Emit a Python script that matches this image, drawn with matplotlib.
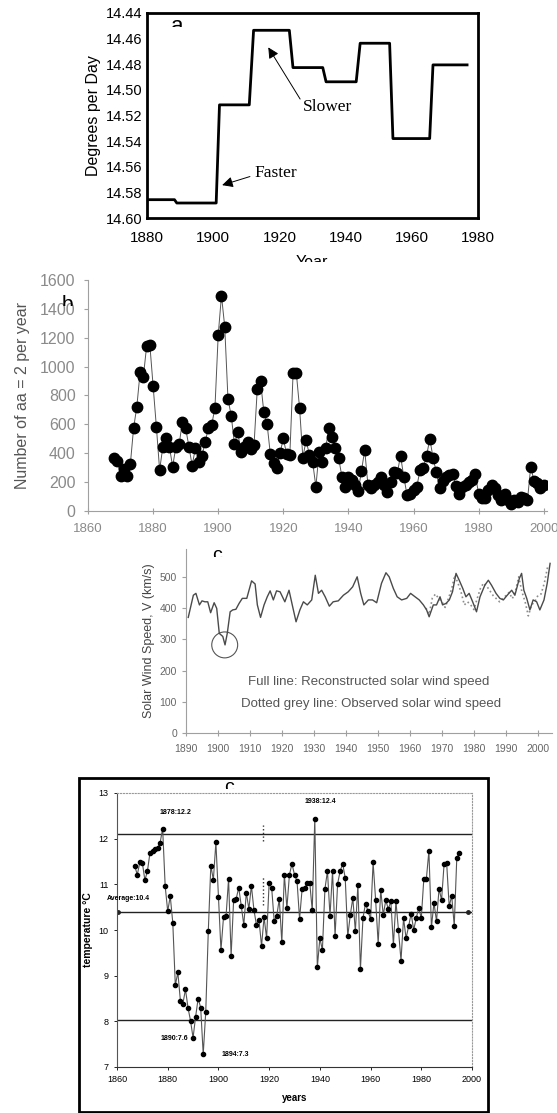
import numpy as np
import matplotlib
matplotlib.use("Agg")
import matplotlib.pyplot as plt
from matplotlib.patches import Ellipse, Rectangle
from matplotlib.transforms import Bbox, TransformedBbox

plt.rcParams['font.family'] = ['Liberation Sans', 'DejaVu Sans']

# ---- panel a: rotation rate (degrees per day), step curve vertices
a_years = [1880, 1888.3, 1889.0, 1900.9, 1901.9, 1910.9, 1912.2, 1923.0, 1924.1,
           1933.1, 1934.1, 1943.2, 1944.4, 1953.3, 1954.3, 1965.4, 1966.4, 1976.7]
a_rates = [14.5857, 14.5857, 14.5883, 14.5883, 14.5117, 14.5117, 14.4535, 14.4535,
           14.4826, 14.4826, 14.4937, 14.4937, 14.4636, 14.4636, 14.538, 14.538,
           14.4805, 14.4805]
a_yticks = [14.44, 14.46, 14.48, 14.50, 14.52, 14.54, 14.56, 14.58, 14.60]
a_xticks = [1880, 1900, 1920, 1940, 1960, 1980]

# ---- panel b: number of aa = 2 per year
b_start = 1868
b_counts = [365, 346, 245, 290, 245, 323, 573, 723, 960, 930,
            1140, 1150, 868, 584, 284, 446, 508, 446, 307, 446,
            462, 619, 573, 446, 314, 439, 342, 383, 480, 577,
            596, 716, 1220, 1492, 1277, 776, 660, 462, 545, 411,
            446, 480, 430, 457, 845, 900, 688, 605, 397, 330,
            300, 400, 504, 393, 388, 954, 954, 711, 369, 492,
            388, 341, 168, 411, 341, 434, 573, 515, 434, 365,
            238, 168, 238, 215, 180, 138, 277, 422, 180, 161,
            180, 203, 238, 180, 134, 203, 272, 261, 383, 238,
            111, 115, 145, 168, 284, 300, 383, 499, 369, 268,
            157, 208, 238, 249, 254, 175, 115, 168, 180, 203,
            215, 254, 115, 88, 92, 145, 180, 161, 111, 76,
            115, 76, 46, 76, 60, 99, 88, 76, 307, 208,
            192, 157, 180]
b_years = list(range(b_start, b_start + len(b_counts)))

# ---- panel c: solar wind speed (km/s)
c_years = [1890.7, 1892.3, 1893.1, 1894.2, 1895.0, 1895.9, 1896.8, 1897.7, 1898.8, 1899.6,
           1900.4, 1901.5, 1902.2, 1902.9, 1903.8, 1904.6, 1905.6, 1906.6, 1907.6, 1909.0,
           1910.5, 1911.6, 1912.3, 1913.3, 1914.4, 1915.4, 1916.3, 1917.3, 1918.3, 1919.4,
           1920.9, 1922.2, 1923.3, 1924.4, 1925.6, 1926.7, 1927.9, 1929.3, 1930.4, 1931.4,
           1932.4, 1933.5, 1934.8, 1936.0, 1937.6, 1939.2, 1940.7, 1942.1, 1943.5, 1944.6,
           1945.6, 1947.0, 1948.3, 1949.6, 1951.1, 1952.5, 1953.5, 1954.8, 1956.0, 1957.4,
           1959.0, 1960.2, 1961.6, 1962.9, 1964.2, 1965.2, 1966.0, 1967.3, 1968.3, 1969.4,
           1970.2, 1971.3, 1972.3, 1973.3, 1974.4, 1975.4, 1976.5, 1977.5, 1978.5, 1979.6,
           1980.8, 1981.9, 1983.4, 1984.5, 1985.5, 1986.9, 1988.1, 1989.2, 1990.4, 1991.8,
           1992.8, 1994.2, 1994.9, 1995.6, 1996.5, 1997.5, 1998.5, 1999.6, 2000.6, 2001.9,
           2002.9, 2003.8]
c_recon = [370, 441, 447, 410, 423, 420, 420, 385, 417, 399,
           319, 309, 282, 319, 388, 394, 396, 415, 431, 431,
           487, 477, 410, 370, 410, 436, 455, 426, 455, 452,
           420, 457, 406, 356, 394, 420, 410, 426, 505, 447,
           457, 436, 406, 420, 423, 441, 452, 468, 500, 447,
           410, 426, 426, 417, 479, 513, 500, 463, 436, 426,
           431, 447, 436, 426, 410, 394, 372, 410, 410, 436,
           410, 415, 426, 452, 511, 489, 463, 436, 447, 420,
           388, 436, 473, 489, 473, 447, 431, 426, 441, 457,
           441, 495, 511, 457, 431, 394, 426, 420, 394, 426,
           479, 543]
c_obs_years = list(range(1965, 2004))
c_obs = [400, 380, 432, 445, 430, 420, 402, 430, 460, 505,
         480, 450, 410, 420, 410, 395, 430, 462, 480, 470,
         455, 440, 430, 420, 430, 440, 450, 430, 455, 500,
         452, 420, 375, 410, 420, 440, 445, 480, 530]
c_xticks = list(range(1890, 2001, 10))
c_yticks = [0, 100, 200, 300, 400, 500]

# ---- panel d: temperature (deg C)
d_start = 1867
d_temps = [11.40, 11.21, 11.48, 11.47, 11.09, 11.29, 11.69, 11.72, 11.78, 11.80,
           11.91, 12.22, 10.96, 10.41, 10.74, 10.16, 8.79, 9.07, 8.45, 8.39,
           8.70, 8.30, 8.01, 7.64, 8.10, 8.50, 8.30, 7.28, 8.21, 9.97,
           11.41, 11.10, 11.92, 10.72, 9.56, 10.28, 10.30, 11.12, 9.43, 10.66,
           10.68, 10.93, 10.53, 10.11, 10.82, 10.46, 10.97, 10.44, 10.11, 10.22,
           9.65, 10.28, 9.82, 11.04, 10.92, 10.19, 10.31, 10.68, 9.73, 11.21,
           10.48, 11.21, 11.45, 11.21, 11.07, 10.24, 10.90, 10.92, 11.03, 11.04,
           10.43, 12.44, 9.18, 9.82, 9.56, 10.90, 11.29, 10.31, 11.29, 9.87,
           11.01, 11.29, 11.45, 11.14, 9.86, 10.33, 10.70, 9.97, 10.99, 9.14,
           10.26, 10.58, 10.41, 10.24, 11.48, 10.65, 9.70, 10.88, 10.33, 10.65,
           10.46, 10.63, 9.67, 10.63, 10.00, 9.33, 10.26, 9.82, 10.08, 10.36,
           10.00, 10.26, 10.48, 10.26, 11.12, 11.12, 11.73, 10.06, 10.60, 10.19,
           10.90, 10.66, 11.45, 11.47, 10.52, 10.75, 10.09, 11.58, 11.69]
d_years = list(range(d_start, d_start + len(d_temps)))
d_levels = [12.1, 10.4, 8.03]


W, H = 557, 1113
fig = plt.figure(figsize=(W / 100, H / 100), dpi=100)


def rect(l, t, r, b):
    # pixel box -> figure fraction rect
    return [l / W, 1 - b / H, (r - l) / W, (b - t) / H]


def clipped_text(x, y, s, cut_y, **kw):
    # text whose lower part is cut off at pixel row cut_y (from top)
    t = fig.text(x / W, 1 - y / H, s, va='baseline', **kw)
    bb = Bbox.from_extents(0, 1 - cut_y / H, 1, 1)
    t.set_clip_box(TransformedBbox(bb, fig.transFigure))
    t.set_clip_on(True)
    return t


# ================= panel a =================
ax = fig.add_axes(rect(147, 13, 478, 218))
ax.plot(a_years, a_rates, color='black', lw=2)
ax.set_xlim(1880, 1980)
ax.set_ylim(14.60, 14.44)
ax.set_yticks(a_yticks)
ax.set_yticklabels(['%.2f' % v for v in a_yticks])
ax.set_xticks(a_xticks)
for s in ax.spines.values():
    s.set_linewidth(2)
ax.tick_params(length=0, labelsize=10.5, pad=3)
ax.tick_params(axis='x', pad=9, labelsize=11)
ax.set_ylabel('Degrees per Day', fontsize=11.5, labelpad=4)
ax.annotate('', xy=(1916.2, 14.465), xytext=(1926.7, 14.509),
            arrowprops=dict(arrowstyle='-|>', color='black', lw=0.7, mutation_scale=16))
ax.text(1927.1, 14.5134, 'Slower', family='Liberation Serif', fontsize=12.5,
        va='center', ha='left')
ax.annotate('', xy=(1901.9, 14.575), xytext=(1911.9, 14.567),
            arrowprops=dict(arrowstyle='-|>', color='black', lw=0.7, mutation_scale=16))
ax.text(1912.6, 14.5649, 'Faster', family='Liberation Serif', fontsize=12.5,
        va='center', ha='left')
clipped_text(177, 32, 'a', 27, fontsize=16, ha='center')
clipped_text(312, 267, 'Year', 262, fontsize=11.5, ha='center')

# ================= panel b =================
grey = '#8a8a8a'
ax = fig.add_axes(rect(88, 280, 547, 511))
ax.plot(b_years, b_counts, color='#555555', lw=0.7, marker='o', ms=7.5,
        mfc='black', mec='black')
ax.set_xlim(1860, 2001)
ax.set_ylim(0, 1600)
ax.set_xticks(range(1860, 2001, 20))
ax.set_yticks(range(0, 1601, 200))
for side in ['top', 'right']:
    ax.spines[side].set_visible(False)
for side in ['left', 'bottom']:
    ax.spines[side].set_color('#a0a0a0')
    ax.spines[side].set_linewidth(0.8)
ax.tick_params(colors='#a0a0a0', labelcolor=grey, length=3, width=0.8)
ax.tick_params(axis='y', labelsize=11.5, pad=6)
ax.tick_params(axis='x', direction='inout', length=4, pad=7, labelsize=9.5)
ax.set_ylabel('Number of aa = 2 per year', fontsize=11.5, color='#555555', labelpad=7)
clipped_text(67, 310, 'b', 306, fontsize=15, ha='center')

# ================= panel c =================
ax = fig.add_axes(rect(186, 549, 552, 733))
ax.plot(c_obs_years, c_obs, color='#8c8c8c', lw=1.2, ls=':')
ax.plot(c_years, c_recon, color='#4a4a4a', lw=1.0)
ax.add_patch(Ellipse((1902.1, 282), width=8.1, height=83, fill=False,
                     edgecolor='#555555', lw=0.8))
ax.set_xlim(1890, 2004.4)
ax.set_ylim(0, 589)
ax.set_xticks(c_xticks)
ax.set_yticks(c_yticks)
for side in ['top', 'right']:
    ax.spines[side].set_visible(False)
for side in ['left', 'bottom']:
    ax.spines[side].set_color('#a0a0a0')
    ax.spines[side].set_linewidth(0.8)
ax.tick_params(colors='#a0a0a0', labelcolor='#666666', labelsize=7.5, length=3, width=0.8)
ax.tick_params(axis='x', direction='inout', length=4, pad=6)
ax.set_ylabel('Solar Wind Speed, V (km/s)', fontsize=9, color='#444444', labelpad=3)
ax.text(0.5, 0.278, 'Full line: Reconstructed solar wind speed', transform=ax.transAxes,
        ha='center', va='center', fontsize=9.5, color='#555555')
ax.text(0.505, 0.16, 'Dotted grey line: Observed solar wind speed', transform=ax.transAxes,
        ha='center', va='center', fontsize=9.5, color='#555555')
clipped_text(217, 560, 'c', 557, fontsize=14, ha='center')

# ================= panel d =================
fig.add_artist(Rectangle((79 / W, 1 - 1112 / H), (488 - 79) / W, (1112 - 778) / H,
                         transform=fig.transFigure, fill=False, edgecolor='black', lw=2))
ax = fig.add_axes(rect(117, 793, 472, 1067))
for lev in d_levels:
    ax.axhline(lev, color='#222222', lw=1)
ax.plot([1860.5, 1998.5], [d_levels[1], d_levels[1]], ls='none', marker='o', ms=2.5,
        color='#222222')
ax.plot([1917.7, 1917.7], [11.95, 12.3], ls=':', color='#333333', lw=1)
ax.plot([1917.7, 1917.7], [10.55, 11.15], ls=':', color='#333333', lw=1)
ax.plot(d_years, d_temps, color='#555555', lw=0.8, marker='o', ms=3,
        mfc='black', mec='black')
ax.set_xlim(1860, 2000)
ax.set_ylim(7, 13)
ax.set_xticks(range(1860, 2001, 20))
ax.set_yticks(range(7, 14))
for side in ['top', 'right']:
    ax.spines[side].set_linestyle(':')
    ax.spines[side].set_color('#999999')
ax.spines['left'].set_color('#555555')
ax.spines['bottom'].set_color('#333333')
ax.tick_params(labelsize=6.5, length=2, width=0.6, pad=4)
ax.set_xlabel('years', fontsize=7, fontweight='bold', labelpad=6)
ax.set_ylabel('temperature \u00b0C', fontsize=7.5, fontweight='bold', labelpad=4)
lbl = dict(fontsize=5, fontweight='bold', ha='center', va='center')
ax.text(1883.1, 12.58, '1878:12.2', **lbl)
ax.text(1940.0, 12.81, '1938:12.4', **lbl)
ax.text(1864.3, 10.70, 'Average:10.4', **lbl)
ax.text(1882.5, 7.62, '1890:7.6', **lbl)
ax.text(1906.5, 7.28, '1894:7.3', **lbl)
clipped_text(229, 792, 'c', 789, fontsize=14, ha='center')

fig.savefig('out.png', dpi=100)
